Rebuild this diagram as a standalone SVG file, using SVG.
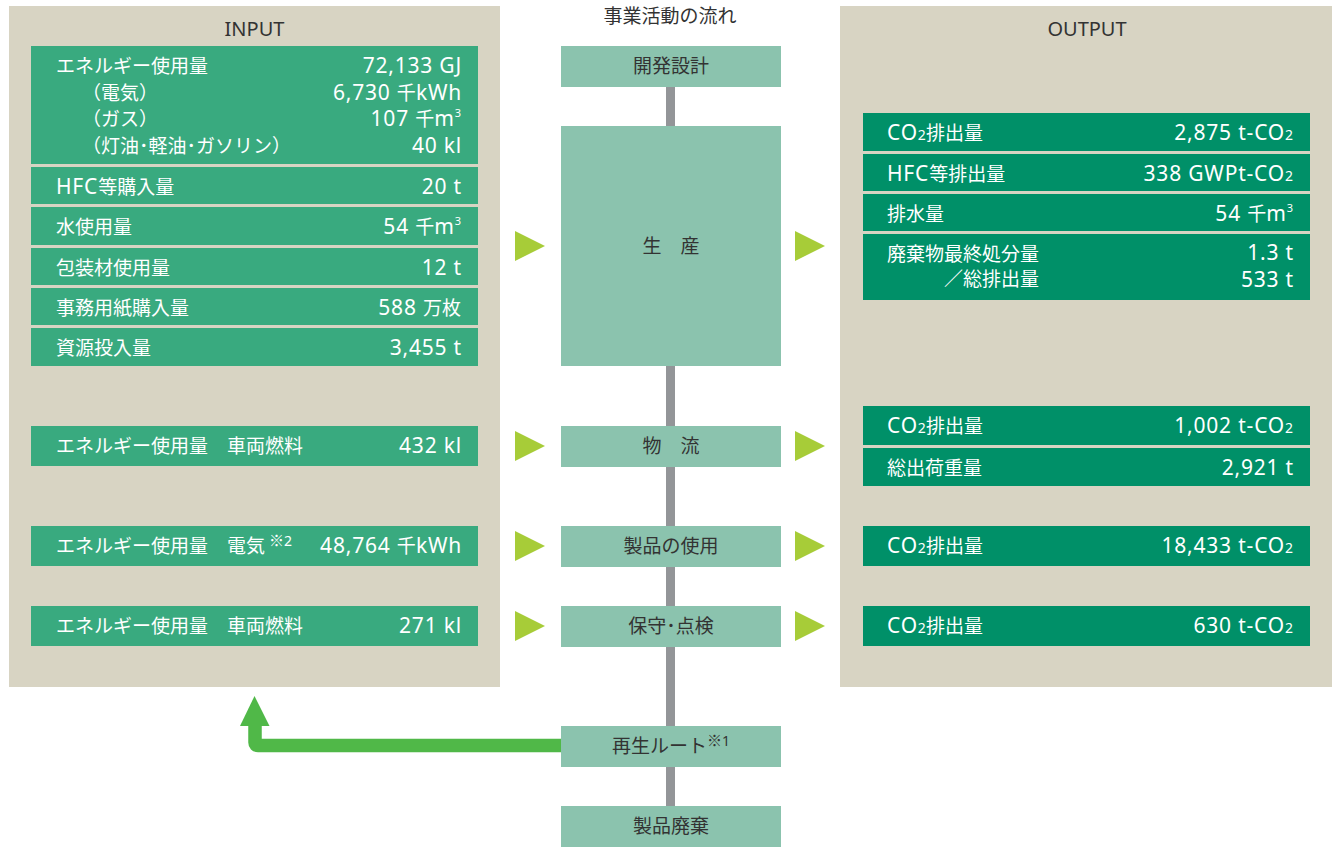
<svg xmlns="http://www.w3.org/2000/svg" width="1332" height="847" viewBox="0 0 1332 847">
<style>
.panel{fill:#d8d4c3}
.ib{fill:#39aa7f}
.ob{fill:#009068}
.mb{fill:#8bc3ae}
.tri{fill:#a7cc38}
.t{font-family:"Noto Sans CJK JP","Noto Sans",sans-serif;font-size:19px;fill:#fff}
.n{font-family:"Noto Sans","Noto Sans CJK JP",sans-serif;font-size:21px;letter-spacing:0.8px}
.sub{font-family:"Noto Sans",sans-serif;font-size:14px}
.sup{font-family:"Noto Sans",sans-serif;font-size:11px}
.mk{font-family:"Noto Sans CJK JP",sans-serif;font-size:15px}
.mn{font-family:"Noto Sans",sans-serif;font-size:14px}
.v{text-anchor:end}
.d{fill:#333}
.c{text-anchor:middle}
.h{font-family:"Noto Sans","Noto Sans CJK JP",sans-serif;font-size:20px;fill:#333;text-anchor:middle}
</style>
<rect x="0" y="0" width="1332" height="847" fill="#fff"/>

<g id="input-panel">
<rect class="panel" x="9" y="6" width="491" height="681"/>
<text class="h" x="254.5" y="36">INPUT</text>
</g>
<g id="output-panel">
<rect class="panel" x="840" y="6" width="492" height="681"/>
<text class="h" x="1087" y="36">OUTPUT</text>
</g>
<text id="flow-title" class="t d c" x="670" y="23">事業活動の流れ</text>

<g id="connectors">
<rect x="666" y="87" width="9" height="719" fill="#939598"/>
<polygon class="tri" points="515,231 545,246 515,261"/>
<polygon class="tri" points="795,231 825,246 795,261"/>
<polygon class="tri" points="515,431 545,446 515,461"/>
<polygon class="tri" points="795,431 825,446 795,461"/>
<polygon class="tri" points="515,531 545,546 515,561"/>
<polygon class="tri" points="795,531 825,546 795,561"/>
<polygon class="tri" points="515,611 545,626 515,641"/>
<polygon class="tri" points="795,611 825,626 795,641"/>
<path d="M561,745.5 H258 Q255,745.5 255,742.5 V724" fill="none" stroke="#50b848" stroke-width="13.5"/>
<polygon points="240,726 269.5,726 254.5,696" fill="#50b848"/>
</g>

<g id="in-energy">
<rect class="ib" x="31" y="46" width="447" height="118"/>
<text class="t" x="56" y="73">エネルギー使用量</text>
<text class="t" x="82" y="99.5">（電気）</text>
<text class="t" x="82" y="126">（ガス）</text>
<text class="t" x="82" y="152.5">（灯油･軽油･ガソリン）</text>
<text class="t v" x="462" y="73"><tspan class="n">72,133 GJ</tspan></text>
<text class="t v" x="462" y="99.5"><tspan class="n">6,730 </tspan>千<tspan class="n">kWh</tspan></text>
<text class="t v" x="461" y="126"><tspan class="n">107 </tspan>千<tspan class="n">m</tspan><tspan class="sup" dy="-9">3</tspan></text>
<text class="t v" x="462" y="152.5"><tspan class="n">40 kl</tspan></text>
</g>
<g id="in-hfc">
<rect class="ib" x="31" y="167" width="447" height="37"/>
<text class="t" x="56" y="193.5"><tspan class="n">HFC</tspan>等購入量</text>
<text class="t v" x="462" y="193.5"><tspan class="n">20 t</tspan></text>
</g>
<g id="in-water">
<rect class="ib" x="31" y="207" width="447" height="38"/>
<text class="t" x="56" y="233.5">水使用量</text>
<text class="t v" x="461" y="233.5"><tspan class="n">54 </tspan>千<tspan class="n">m</tspan><tspan class="sup" dy="-9">3</tspan></text>
</g>
<g id="in-pack">
<rect class="ib" x="31" y="248" width="447" height="37"/>
<text class="t" x="56" y="274.5">包装材使用量</text>
<text class="t v" x="462" y="274.5"><tspan class="n">12 t</tspan></text>
</g>
<g id="in-paper">
<rect class="ib" x="31" y="288" width="447" height="37"/>
<text class="t" x="56" y="314.5">事務用紙購入量</text>
<text class="t v" x="461" y="314.5"><tspan class="n">588 </tspan>万枚</text>
</g>
<g id="in-resource">
<rect class="ib" x="31" y="328" width="447" height="38"/>
<text class="t" x="56" y="354.5">資源投入量</text>
<text class="t v" x="462" y="354.5"><tspan class="n">3,455 t</tspan></text>
</g>
<g id="in-logistics">
<rect class="ib" x="31" y="426" width="447" height="40"/>
<text class="t" x="56" y="453">エネルギー使用量　車両燃料</text>
<text class="t v" x="462" y="453"><tspan class="n">432 kl</tspan></text>
</g>
<g id="in-use">
<rect class="ib" x="31" y="526" width="447" height="40"/>
<text class="t" x="56" y="553">エネルギー使用量　電気<tspan class="mk" dx="4" dy="-7">※</tspan><tspan class="mn">2</tspan></text>
<text class="t v" x="462" y="553"><tspan class="n">48,764 </tspan>千<tspan class="n">kWh</tspan></text>
</g>
<g id="in-maint">
<rect class="ib" x="31" y="606" width="447" height="40"/>
<text class="t" x="56" y="633">エネルギー使用量　車両燃料</text>
<text class="t v" x="462" y="633"><tspan class="n">271 kl</tspan></text>
</g>

<g id="m-design">
<rect class="mb" x="561" y="46" width="220" height="41"/>
<text class="t d c" x="671" y="72.5">開発設計</text>
</g>
<g id="m-production">
<rect class="mb" x="561" y="126" width="220" height="240"/>
<text class="t d c" x="671" y="252.5">生　産</text>
</g>
<g id="m-logistics">
<rect class="mb" x="561" y="426" width="220" height="41"/>
<text class="t d c" x="671" y="453">物　流</text>
</g>
<g id="m-use">
<rect class="mb" x="561" y="526" width="220" height="41"/>
<text class="t d c" x="671" y="553">製品の使用</text>
</g>
<g id="m-maint">
<rect class="mb" x="561" y="606" width="220" height="41"/>
<text class="t d c" x="671" y="633">保守･点検</text>
</g>
<g id="m-recycle">
<rect class="mb" x="561" y="726" width="220" height="41"/>
<text class="t d c" x="671" y="752.5">再生ルート<tspan class="mk" dy="-7">※</tspan><tspan class="mn">1</tspan></text>
</g>
<g id="m-disposal">
<rect class="mb" x="561" y="806" width="220" height="41"/>
<text class="t d c" x="671" y="832.5">製品廃棄</text>
</g>

<g id="out-co2-prod">
<rect class="ob" x="863" y="113" width="447" height="38"/>
<text class="t" x="887" y="140"><tspan class="n">CO</tspan><tspan class="sub">2</tspan>排出量</text>
<text class="t v" x="1293" y="140"><tspan class="n">2,875 t-CO</tspan><tspan class="sub">2</tspan></text>
</g>
<g id="out-hfc">
<rect class="ob" x="863" y="154" width="447" height="37"/>
<text class="t" x="887" y="180.5"><tspan class="n">HFC</tspan>等排出量</text>
<text class="t v" x="1293" y="180.5"><tspan class="n">338 GWPt-CO</tspan><tspan class="sub">2</tspan></text>
</g>
<g id="out-water">
<rect class="ob" x="863" y="194" width="447" height="37"/>
<text class="t" x="887" y="220.5">排水量</text>
<text class="t v" x="1293" y="220.5"><tspan class="n">54 </tspan>千<tspan class="n">m</tspan><tspan class="sup" dy="-9">3</tspan></text>
</g>
<g id="out-waste">
<rect class="ob" x="863" y="234" width="447" height="66"/>
<text class="t" x="887" y="261">廃棄物最終処分量</text>
<text class="t" x="944" y="286">／総排出量</text>
<text class="t v" x="1294" y="260"><tspan class="n">1.3 t</tspan></text>
<text class="t v" x="1294" y="286.5"><tspan class="n">533 t</tspan></text>
</g>
<g id="out-co2-log">
<rect class="ob" x="863" y="406" width="447" height="39"/>
<text class="t" x="887" y="433"><tspan class="n">CO</tspan><tspan class="sub">2</tspan>排出量</text>
<text class="t v" x="1293" y="433"><tspan class="n">1,002 t-CO</tspan><tspan class="sub">2</tspan></text>
</g>
<g id="out-ship">
<rect class="ob" x="863" y="448" width="447" height="38"/>
<text class="t" x="887" y="474.5">総出荷重量</text>
<text class="t v" x="1294" y="474.5"><tspan class="n">2,921 t</tspan></text>
</g>
<g id="out-co2-use">
<rect class="ob" x="863" y="526" width="447" height="40"/>
<text class="t" x="887" y="553"><tspan class="n">CO</tspan><tspan class="sub">2</tspan>排出量</text>
<text class="t v" x="1293" y="553"><tspan class="n">18,433 t-CO</tspan><tspan class="sub">2</tspan></text>
</g>
<g id="out-co2-maint">
<rect class="ob" x="863" y="606" width="447" height="40"/>
<text class="t" x="887" y="633"><tspan class="n">CO</tspan><tspan class="sub">2</tspan>排出量</text>
<text class="t v" x="1293" y="633"><tspan class="n">630 t-CO</tspan><tspan class="sub">2</tspan></text>
</g>
</svg>
